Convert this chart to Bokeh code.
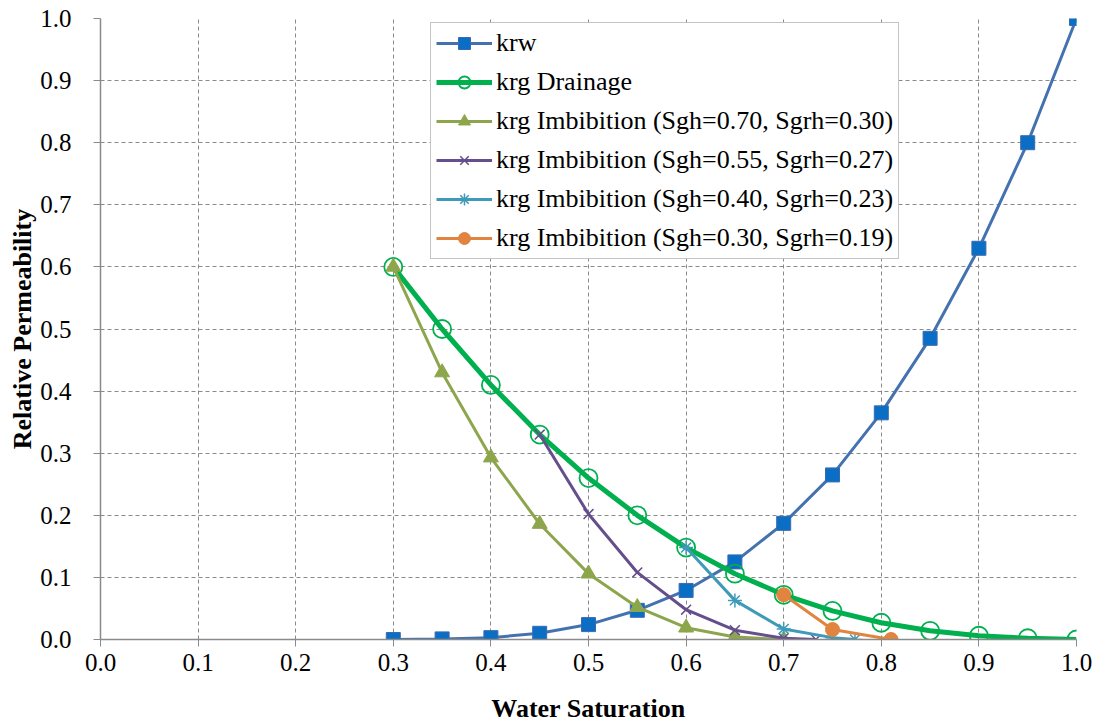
from bokeh.plotting import figure
from bokeh.models import Range1d, FixedTicker, NumeralTickFormatter, Legend, LegendItem
from bokeh.embed import file_html
from bokeh.resources import INLINE

# ---- data ----
sw_krw = [0.30, 0.35, 0.40, 0.45, 0.50, 0.55, 0.60, 0.65, 0.70, 0.75, 0.80, 0.85, 0.90, 0.95, 1.00]
krw = [0.0, 0.001, 0.003, 0.010, 0.024, 0.047, 0.079, 0.125, 0.187, 0.265, 0.365, 0.485, 0.630, 0.800, 1.000]

sw_drain = [0.30, 0.35, 0.40, 0.45, 0.50, 0.55, 0.60, 0.65, 0.70, 0.75, 0.80, 0.85, 0.90, 0.95, 1.00]
krg_drain = [0.600, 0.500, 0.410, 0.330, 0.260, 0.200, 0.148, 0.106, 0.072, 0.046, 0.027, 0.014, 0.006, 0.002, 0.0]

sw_imb1 = [0.30, 0.35, 0.40, 0.45, 0.50, 0.55, 0.60, 0.65, 0.70]
krg_imb1 = [0.600, 0.430, 0.293, 0.186, 0.106, 0.052, 0.019, 0.004, 0.0]

sw_imb2 = [0.45, 0.50, 0.55, 0.60, 0.65, 0.70, 0.733]
krg_imb2 = [0.330, 0.202, 0.108, 0.048, 0.015, 0.002, 0.0]

sw_imb3 = [0.60, 0.65, 0.70, 0.75, 0.773]
krg_imb3 = [0.148, 0.063, 0.017, 0.003, 0.0]

sw_imb4 = [0.70, 0.75, 0.81]
krg_imb4 = [0.072, 0.016, 0.0]

labels = ["krw", "krg Drainage",
          "krg Imbibition (Sgh=0.70, Sgrh=0.30)",
          "krg Imbibition (Sgh=0.55, Sgrh=0.27)",
          "krg Imbibition (Sgh=0.40, Sgrh=0.23)",
          "krg Imbibition (Sgh=0.30, Sgrh=0.19)"]
ticks = [0.0, 0.1, 0.2, 0.3, 0.4, 0.5, 0.6, 0.7, 0.8, 0.9, 1.0]

FONT = "Liberation Serif"
GRID = "#8a8a8a"

p = figure(width=1103, height=725, output_backend="svg", toolbar_location=None,
           x_range=Range1d(0, 1), y_range=Range1d(0, 1),
           min_border_left=100, min_border_right=27, min_border_top=18, min_border_bottom=86)
p.outline_line_color = None
p.background_fill_color = "white"
p.border_fill_color = "white"

for ax in (p.xaxis[0], p.yaxis[0]):
    ax.ticker = FixedTicker(ticks=ticks)
    ax.formatter = NumeralTickFormatter(format="0.0")
    ax.axis_line_color = GRID
    ax.axis_line_width = 1.5
    ax.major_tick_line_color = GRID
    ax.major_tick_in = 0
    ax.major_tick_out = 7
    ax.minor_tick_line_color = None
    ax.major_label_text_font = FONT
    ax.major_label_text_font_size = "25px"
    ax.major_label_text_color = "#000000"
    ax.axis_label_text_font = FONT
    ax.axis_label_text_font_size = "26px"
    ax.axis_label_text_font_style = "bold"
    ax.axis_label_text_color = "#000000"

p.xaxis.axis_label = "Water Saturation"
p.yaxis.axis_label = "Relative Permeability"
p.xaxis.major_label_standoff = 7
p.yaxis.major_label_standoff = 22
p.xaxis.axis_label_standoff = 20
p.yaxis.axis_label_standoff = 0

for g in (p.xgrid[0], p.ygrid[0]):
    g.ticker = FixedTicker(ticks=ticks)
    g.grid_line_color = GRID
    g.grid_line_dash = "4 3"
    g.grid_line_width = 1

items = []

c = "#4472B0"
l = p.line(sw_krw, krw, line_color=c, line_width=3)
s = p.scatter(sw_krw, krw, marker="square", size=14, fill_color="#0A6FC4", line_color="#3A6BB0", line_width=1)
items.append(LegendItem(label=labels[0], renderers=[l, s]))

c = "#00B04F"
l = p.line(sw_drain, krg_drain, line_color=c, line_width=5)
s = p.scatter(sw_drain, krg_drain, marker="circle", size=18, fill_color="white", fill_alpha=0,
              line_color=c, line_width=1.8)
items.append(LegendItem(label=labels[1], renderers=[l, s]))

c = "#8DA64C"
l = p.line(sw_imb1, krg_imb1, line_color=c, line_width=3)
s = p.scatter(sw_imb1, krg_imb1, marker="triangle", size=15, fill_color=c, line_color=c)
items.append(LegendItem(label=labels[2], renderers=[l, s]))

c = "#654E8C"
l = p.line(sw_imb2, krg_imb2, line_color=c, line_width=3)
s = p.scatter(sw_imb2, krg_imb2, marker="x", size=14, line_color=c, line_width=1.5)
items.append(LegendItem(label=labels[3], renderers=[l, s]))

c = "#3E9AB8"
l = p.line(sw_imb3, krg_imb3, line_color=c, line_width=3)
s = p.scatter(sw_imb3, krg_imb3, marker="asterisk", size=14, line_color=c, line_width=1.5)
items.append(LegendItem(label=labels[4], renderers=[l, s]))

c = "#E0843F"
l = p.line(sw_imb4, krg_imb4, line_color=c, line_width=3)
s = p.scatter(sw_imb4, krg_imb4, marker="circle", size=14, fill_color=c, line_color=c)
items.append(LegendItem(label=labels[5], renderers=[l, s]))

legend = Legend(items=items, location=(330, 380))
legend.label_text_font = FONT
legend.label_text_font_size = "26px"
legend.label_text_color = "#000000"
legend.glyph_width = 56
legend.glyph_height = 30
legend.label_height = 30
legend.label_standoff = 4
legend.spacing = 9
legend.padding = 5
legend.margin = 0
legend.border_line_color = "#8a8a8a"
legend.border_line_width = 1.5
legend.background_fill_color = "white"
legend.background_fill_alpha = 1
p.add_layout(legend)

open("out.html", "w").write(file_html(p, INLINE))
